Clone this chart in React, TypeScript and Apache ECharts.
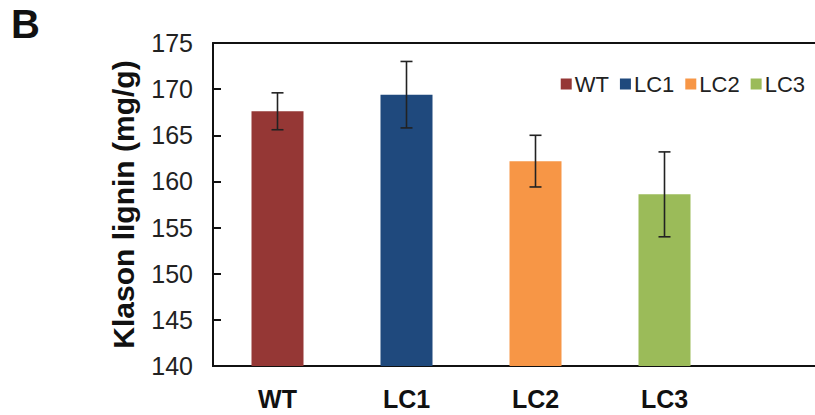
import React, { useEffect, useRef } from "react";
import * as echarts from "echarts";

const categories = ["WT", "LC1", "LC2", "LC3"];
const means = [167.6, 169.4, 162.2, 158.6];
const errors = [2.0, 3.6, 2.8, 4.6];
const colors = ["#953735", "#1F497D", "#F79646", "#9BBB59"];
const yTicks = { min: 140, max: 175, interval: 5 };

const FONT = "'Liberation Sans', Arial, Helvetica, sans-serif";

export default function App() {
  const ref = useRef<HTMLDivElement>(null);
  useEffect(() => {
    document.body.style.margin = "0";
    if (!ref.current) return;
    const chart = echarts.init(ref.current, null, { renderer: "svg" });

    const barSeries = categories.map((name, i) => ({
      name,
      type: "bar",
      xAxisIndex: 0,
      yAxisIndex: 0,
      barWidth: 52,
      barGap: "-100%",
      itemStyle: { color: colors[i] },
      data: categories.map((_, j) => (j === i ? means[i] : "-")),
    }));

    const errData = categories.map((_, i) => [i, means[i] - errors[i], means[i] + errors[i]]);

    const option: any = {
      animation: false,
      textStyle: { fontFamily: FONT },
      graphic: [
        {
          type: "text",
          left: 11,
          top: 4,
          style: { text: "B", font: `bold 40px ${FONT}`, fill: "#111" },
        },
      ],
      legend: {
        right: 5,
        top: 68,
        itemWidth: 11,
        itemHeight: 11,
        itemGap: 11,
        icon: "rect",
        textStyle: { fontSize: 22, color: "#222", fontFamily: FONT, padding: [0, 0, 0, -2] },
        data: categories,
      },
      grid: [
        { left: 213, top: 43, bottom: 49, width: 516 },
        { left: 213, top: 43, bottom: 49, right: 0 },
      ],
      xAxis: [
        {
          type: "category",
          gridIndex: 0,
          data: categories,
          axisLine: { show: true, lineStyle: { color: "#111", width: 2 } },
          axisTick: { show: false },
          axisLabel: {
            fontSize: 25,
            fontWeight: "bold",
            color: "#111",
            margin: 20,
            fontFamily: FONT,
          },
        },
        {
          type: "value",
          gridIndex: 1,
          position: "bottom",
          min: 0,
          max: 1,
          axisLine: { show: true, onZero: false, lineStyle: { color: "#111", width: 2 } },
          axisTick: { show: false },
          axisLabel: { show: false },
          splitLine: { show: false },
        },
        {
          type: "value",
          gridIndex: 1,
          position: "top",
          min: 0,
          max: 1,
          axisLine: { show: true, onZero: false, lineStyle: { color: "#111", width: 2 } },
          axisTick: { show: false },
          axisLabel: { show: false },
          splitLine: { show: false },
        },
      ],
      yAxis: [
        {
          type: "value",
          gridIndex: 0,
          min: yTicks.min,
          max: yTicks.max,
          interval: yTicks.interval,
          name: "Klason lignin (mg/g)",
          nameLocation: "middle",
          nameGap: 75,
          nameTextStyle: { fontSize: 30, fontWeight: "bold", color: "#111", fontFamily: FONT },
          axisLine: { show: true, lineStyle: { color: "#111", width: 2 } },
          axisTick: { show: true, inside: true, length: 8, lineStyle: { color: "#111", width: 2 } },
          axisLabel: { fontSize: 25, color: "#222", margin: 20, fontFamily: FONT },
          splitLine: { show: false },
        },
        {
          type: "value",
          gridIndex: 1,
          min: 0,
          max: 1,
          show: false,
        },
      ],
      series: [
        ...barSeries,
        {
          type: "custom",
          xAxisIndex: 0,
          yAxisIndex: 0,
          silent: true,
          z: 10,
          data: errData,
          renderItem: (params: any, api: any) => {
            const x = api.value(0);
            const lo = api.coord([x, api.value(1)]);
            const hi = api.coord([x, api.value(2)]);
            const cap = 6;
            const style = { stroke: "#222", lineWidth: 1.6 };
            return {
              type: "group",
              children: [
                { type: "line", shape: { x1: lo[0], y1: lo[1], x2: hi[0], y2: hi[1] }, style },
                { type: "line", shape: { x1: lo[0] - cap, y1: lo[1], x2: lo[0] + cap, y2: lo[1] }, style },
                { type: "line", shape: { x1: hi[0] - cap, y1: hi[1], x2: hi[0] + cap, y2: hi[1] }, style },
              ],
            };
          },
        },
      ],
    };
    chart.setOption(option);
    return () => chart.dispose();
  }, []);
  return <div ref={ref} style={{ width: 815, height: 415 }} />;
}
